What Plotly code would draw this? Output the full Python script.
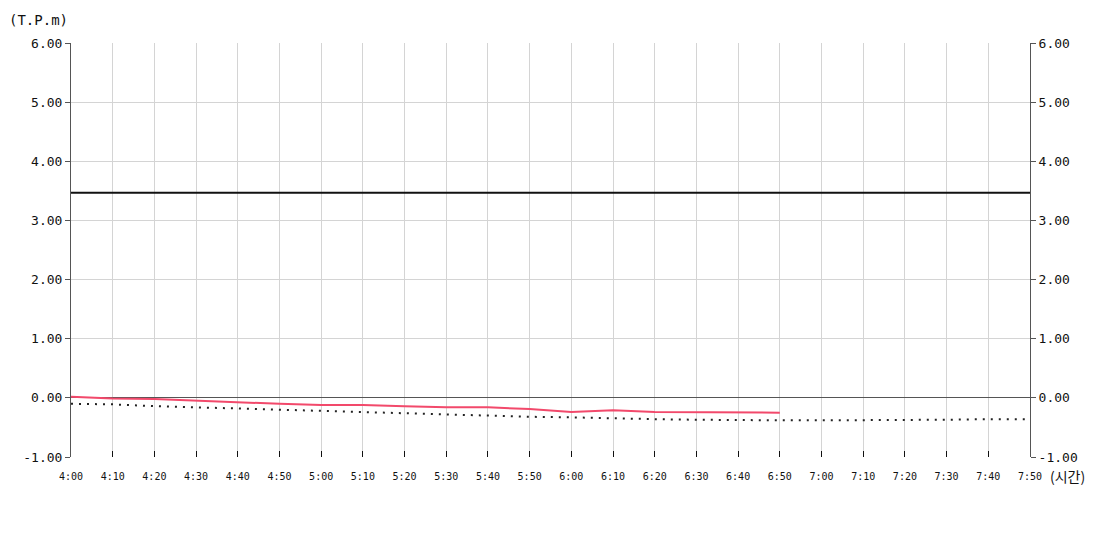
import plotly.graph_objects as go

times = ["4:00", "4:10", "4:20", "4:30", "4:40", "4:50",
         "5:00", "5:10", "5:20", "5:30", "5:40", "5:50",
         "6:00", "6:10", "6:20", "6:30", "6:40", "6:50",
         "7:00", "7:10", "7:20", "7:30", "7:40", "7:50"]

observed = [0.02, -0.01, -0.02, -0.05, -0.08, -0.10,
            -0.12, -0.12, -0.14, -0.16, -0.16, -0.19,
            -0.24, -0.21, -0.24, -0.24, -0.25, -0.25]

predicted = [-0.10, -0.11, -0.14, -0.16, -0.18, -0.21,
             -0.23, -0.25, -0.27, -0.29, -0.31, -0.32,
             -0.33, -0.35, -0.36, -0.37, -0.38, -0.38,
             -0.38, -0.38, -0.38, -0.37, -0.36, -0.36]

limit_level = 3.47

y_ticks = [-1, 0, 1, 2, 3, 4, 5, 6]
y_tick_text = ["-1.00", "0.00", "1.00", "2.00", "3.00", "4.00", "5.00", "6.00"]

MONO = "DejaVu Sans Mono"

fig = go.Figure()

fig.add_trace(go.Scatter(
    x=times, y=[limit_level] * len(times), mode="lines",
    line=dict(color="#111111", width=2), hoverinfo="skip", showlegend=False))

fig.add_trace(go.Scatter(
    x=times, y=predicted, mode="lines",
    line=dict(color="#222222", width=2, dash="2px,6px"), showlegend=False))

fig.add_trace(go.Scatter(
    x=times[:len(observed)], y=observed, mode="lines",
    line=dict(color="#f2496b", width=2), showlegend=False))

# invisible trace for right axis
fig.add_trace(go.Scatter(
    x=times, y=[None] * len(times), yaxis="y2", mode="lines",
    showlegend=False, hoverinfo="skip"))

fig.update_layout(
    width=1100, height=550,
    margin=dict(l=63, r=78, t=35, b=101),
    plot_bgcolor="white", paper_bgcolor="white",
    xaxis=dict(
        type="category", categoryorder="array", categoryarray=times,
        range=[0, len(times) - 1],
        tickmode="array", tickvals=times, ticktext=times,
        showgrid=True, gridcolor="#d4d4d4", gridwidth=1,
        ticks="inside", ticklen=6, tickcolor="#111111", tickwidth=1,
        ticklabelstandoff=12,
        tickfont=dict(family=MONO, size=10, color="#111111"),
        showline=False, zeroline=False, automargin=False,
    ),
    yaxis=dict(
        range=[-1, 6], tickmode="array", tickvals=y_ticks, ticktext=y_tick_text,
        showgrid=True, gridcolor="#d4d4d4", gridwidth=1,
        zeroline=True, zerolinecolor="#555555", zerolinewidth=1,
        showline=True, linecolor="#555555", linewidth=1,
        ticks="outside", ticklen=5, tickcolor="#555555",
        tickfont=dict(family=MONO, size=13, color="#111111"),
        automargin=False,
    ),
    yaxis2=dict(
        range=[-1, 6], overlaying="y", side="right",
        tickmode="array", tickvals=y_ticks, ticktext=y_tick_text,
        showgrid=False, zeroline=False,
        showline=True, linecolor="#555555", linewidth=1,
        ticks="outside", ticklen=5, tickcolor="#555555",
        tickfont=dict(family=MONO, size=13, color="#111111"),
        automargin=False,
    ),
    annotations=[
        dict(text="(T.P.m)", xref="paper", yref="paper", x=0, y=1,
             xanchor="left", yanchor="bottom", xshift=-64, yshift=13,
             showarrow=False, font=dict(family=MONO, size=14, color="#111111")),
        dict(text="(시간)", xref="paper", yref="paper", x=1, y=0,
             xanchor="left", yanchor="middle", xshift=18, yshift=-19,
             showarrow=False, font=dict(family="Noto Sans CJK KR", size=14, color="#111111")),
    ],
)

fig.write_html("out.html")
